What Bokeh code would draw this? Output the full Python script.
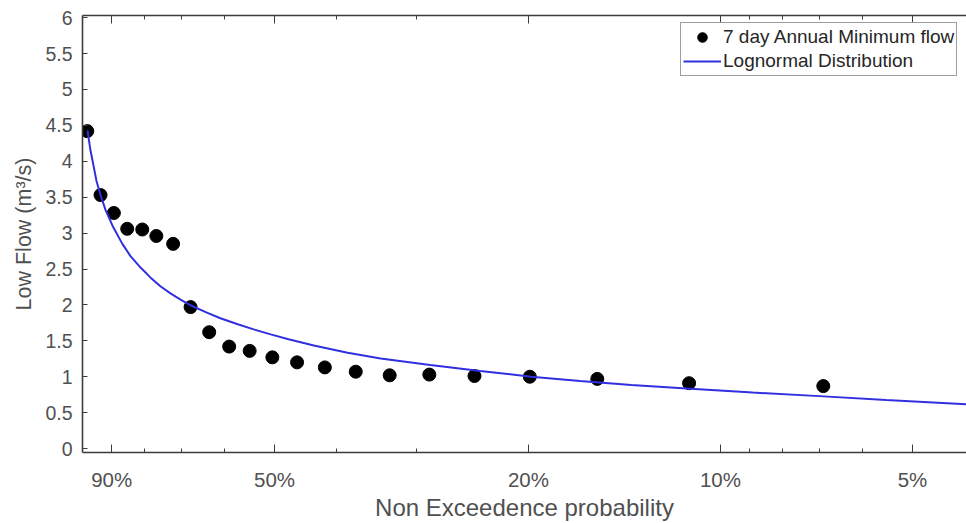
from bokeh.plotting import figure
from bokeh.models import (Range1d, FixedTicker, CustomJSTickFormatter, LogAxis,
                          Legend, LegendItem, ColumnDataSource)
from bokeh.embed import file_html
from bokeh.resources import INLINE

# ---- data ----
# non-exceedance probability (fraction) and 7-day annual minimum flow (m3/s)
obs_prob = [0.983, 0.937, 0.893, 0.851, 0.806, 0.766, 0.721, 0.677, 0.633, 0.589, 0.547,
            0.504, 0.461, 0.417, 0.373, 0.330, 0.286, 0.243, 0.199, 0.156, 0.112, 0.069]
obs_flow = [4.42, 3.53, 3.28, 3.06, 3.05, 2.96, 2.85, 1.97, 1.62, 1.42, 1.36,
            1.27, 1.20, 1.13, 1.07, 1.02, 1.03, 1.01, 1.00, 0.97, 0.91, 0.87]

# lognormal distribution curve
curve_prob = [0.982, 0.972, 0.961, 0.951, 0.937, 0.920, 0.897, 0.866, 0.841, 0.811,
              0.782, 0.755, 0.728, 0.702, 0.677, 0.641, 0.608, 0.571, 0.539, 0.507,
              0.477, 0.434, 0.384, 0.341, 0.285, 0.238, 0.198, 0.166, 0.138, 0.113,
              0.089, 0.070, 0.055, 0.041]
curve_flow = [4.43, 4.16, 3.94, 3.73, 3.53, 3.32, 3.10, 2.85, 2.68, 2.52,
              2.38, 2.26, 2.16, 2.075, 1.995, 1.90, 1.815, 1.73, 1.66, 1.59,
              1.525, 1.435, 1.335, 1.255, 1.165, 1.08, 1.00, 0.94, 0.885, 0.835,
              0.78, 0.73, 0.675, 0.615]

major_pct = [90, 50, 20, 10, 5]
minor_pct = [80, 70, 60, 40, 30, 9, 8, 7, 6]
y_ticks = [0, 0.5, 1, 1.5, 2, 2.5, 3, 3.5, 4, 4.5, 5, 5.5, 6]

FONT = "Liberation Sans"
AX = "#3c3c3c"
TXT = "#505050"

# return period axis (log) = 1 / non-exceedance probability
obs_src = ColumnDataSource(data=dict(x=[1.0 / v for v in obs_prob], y=obs_flow))
cur_src = ColumnDataSource(data=dict(x=[1.0 / v for v in curve_prob], y=curve_flow))

W, H = 966, 523
p = figure(width=W, height=H, x_axis_type="log",
           x_range=Range1d(1.0, 24.3), y_range=Range1d(-0.055, 6.03),
           output_backend="svg", toolbar_location=None,
           min_border_left=82, min_border_right=0, min_border_top=15, min_border_bottom=67)
p.outline_line_color = None
p.xgrid.visible = False
p.ygrid.visible = False
p.background_fill_color = "white"
p.border_fill_color = "white"

xticker = FixedTicker(ticks=[100.0 / v for v in major_pct],
                      minor_ticks=[100.0 / v for v in minor_pct])
xfmt = CustomJSTickFormatter(code="return Math.round(100/tick) + '%';")

xa = p.xaxis[0]
xa.ticker = xticker
xa.formatter = xfmt
xa.axis_label = "Non Exceedence probability"
ya = p.yaxis[0]
ya.ticker = FixedTicker(ticks=y_ticks, minor_ticks=[])
ya.formatter = CustomJSTickFormatter(code="return String(Math.round(tick*10)/10);")
ya.axis_label = "Low Flow (m\u00b3/s)"

for ax in (xa, ya):
    ax.axis_line_color = AX
    ax.axis_line_width = 1.6
    ax.major_tick_line_color = AX
    ax.minor_tick_line_color = AX
    ax.major_tick_out = 0
    ax.minor_tick_out = 0
    ax.major_label_text_font = FONT
    ax.major_label_text_color = TXT
    ax.axis_label_text_font = FONT
    ax.axis_label_text_font_style = "normal"
    ax.axis_label_text_color = TXT

xa.major_label_text_font_size = "20.5px"
xa.axis_label_text_font_size = "24px"
ya.major_label_text_font_size = "19.5px"
ya.axis_label_text_font_size = "21.5px"

xa.major_tick_in = 8
xa.minor_tick_in = 4
xa.major_label_standoff = 15
xa.axis_label_standoff = 0
ya.major_tick_in = 5
ya.minor_tick_in = 0
ya.major_label_standoff = 10
ya.axis_label_standoff = 6

top = LogAxis(ticker=xticker, formatter=CustomJSTickFormatter(code="return '';"),
              axis_line_color=AX, axis_line_width=1.6,
              major_tick_line_color=AX, minor_tick_line_color=AX,
              major_tick_in=8, major_tick_out=0, minor_tick_in=4, minor_tick_out=0,
              major_label_text_color=None, major_label_text_font_size="1px",
              major_label_standoff=0)
p.add_layout(top, "above")

r_pts = p.scatter("x", "y", source=obs_src, size=13, fill_color="black", line_color="black")
r_line = p.line("x", "y", source=cur_src, line_color="#3030e0", line_width=2)

legend = Legend(items=[LegendItem(label="7 day Annual Minimum flow", renderers=[r_pts]),
                       LegendItem(label="Lognormal Distribution", renderers=[r_line])],
                location=(598, 376), orientation="vertical",
                label_text_font=FONT, label_text_font_size="19px", label_text_color="#262626",
                glyph_width=38, glyph_height=24, label_height=24, label_standoff=2,
                padding=2, spacing=0, margin=0,
                border_line_color=AX, border_line_width=1.2, background_fill_color="white",
                background_fill_alpha=1.0)
p.add_layout(legend, "center")

open("out.html", "w").write(file_html(p, INLINE))
